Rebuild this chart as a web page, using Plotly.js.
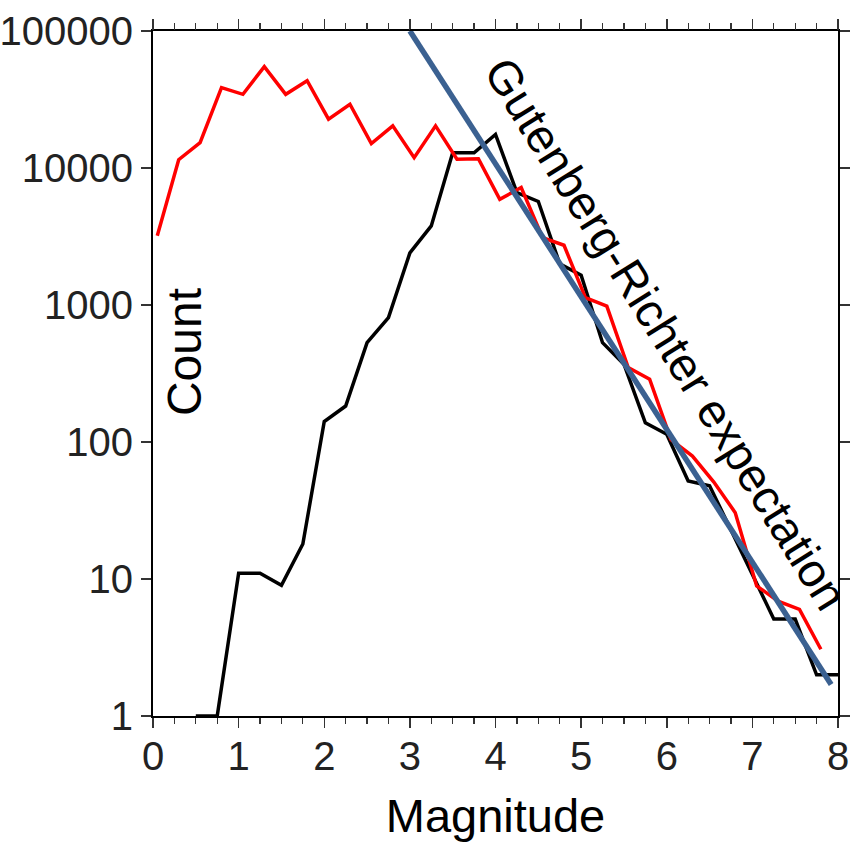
<!DOCTYPE html>
<html>
<head>
<meta charset="utf-8">
<script src="https://cdn.plot.ly/plotly-3.0.1.min.js"></script>
<style>html,body{margin:0;padding:0;background:#fff;}#chart{width:852px;height:842px;}</style>
</head>
<body>
<div id="chart"></div>
<script>
// Black series (magnitude bins at quarter steps)
var blackMag = [0.5, 0.75, 1.0, 1.25, 1.5, 1.75, 2.0, 2.25, 2.5, 2.75, 3.0, 3.25, 3.5, 3.75, 4.0, 4.25, 4.5, 4.75, 5.0, 5.25, 5.5, 5.75, 6.0, 6.25, 6.5, 6.75, 7.0, 7.25, 7.5, 7.75, 8.0];
var blackCount = [1, 1, 11, 11, 9, 18, 141, 183, 531, 809, 2400, 3780, 12900, 12900, 17600, 6600, 5700, 2000, 1650, 531, 370, 138, 114, 52, 48, 23, 10.8, 5.1, 5.1, 2.0, 2.0];

// Red series
var redMag = [0.05, 0.30, 0.55, 0.80, 1.05, 1.30, 1.55, 1.80, 2.05, 2.30, 2.55, 2.80, 3.05, 3.30, 3.55, 3.80, 4.05, 4.30, 4.55, 4.80, 5.05, 5.30, 5.55, 5.80, 6.05, 6.30, 6.55, 6.80, 7.05, 7.30, 7.55, 7.80];
var redCount = [3200, 11500, 15300, 38600, 34500, 55000, 34500, 43400, 22700, 29200, 15100, 20300, 11900, 20300, 11600, 11700, 5900, 7200, 3100, 2730, 1130, 980, 349, 287, 104, 79, 51, 30.5, 8.9, 6.9, 6.0, 3.07];

// Gutenberg-Richter expectation line (end points)
var grMag = [3.0, 7.92];
var grCount = [100000, 1.7];

var yTickVals = [1, 10, 100, 1000, 10000, 100000];
var yTickText = ['1', '10', '100', '1000', '10000', '100000'];
var xTickVals = [0, 1, 2, 3, 4, 5, 6, 7, 8];
var xMinorVals = [0, 0.25, 0.5, 0.75, 1, 1.25, 1.5, 1.75, 2, 2.25, 2.5, 2.75, 3, 3.25, 3.5, 3.75, 4, 4.25, 4.5, 4.75, 5, 5.25, 5.5, 5.75, 6, 6.25, 6.5, 6.75, 7, 7.25, 7.5, 7.75, 8];

var FONT = 'Liberation Sans, Arial, Helvetica, sans-serif';

var traces = [
  {x: blackMag, y: blackCount, type: 'scatter', mode: 'lines', line: {color: '#000000', width: 3.5}, hoverinfo: 'skip'},
  {x: redMag, y: redCount, type: 'scatter', mode: 'lines', line: {color: '#ff0000', width: 3.5}, hoverinfo: 'skip'},
  {x: grMag, y: grCount, xaxis: 'x2', type: 'scatter', mode: 'lines', line: {color: '#3b6191', width: 5.5}, hoverinfo: 'skip'}
];

var layout = {
  width: 852, height: 842,
  margin: {l: 153, r: 14, t: 31, b: 126, pad: 0},
  paper_bgcolor: '#ffffff', plot_bgcolor: '#ffffff',
  showlegend: false,
  font: {family: FONT, color: '#222222'},
  xaxis: {
    range: [0, 8], tickvals: xTickVals, ticks: 'outside', ticklen: 10, tickwidth: 1.5, tickcolor: '#333',
    showline: true, linecolor: '#000', linewidth: 2, mirror: 'ticks', showgrid: false, zeroline: false,
    tickfont: {size: 40, family: FONT, color: '#222'}, ticklabelstandoff: -6,
    minor: {dtick: 0.25, ticks: 'outside', ticklen: 6, tickwidth: 1.2, tickcolor: '#333', showgrid: false},
    title: {text: 'Magnitude', font: {size: 47, family: FONT, color: '#000'}, standoff: 26}
  },
  xaxis2: {
    range: [0, 8], overlaying: 'x', side: 'top', tickvals: xMinorVals, ticks: 'outside', ticklen: 6, tickwidth: 1.2, tickcolor: '#333',
    showline: false, showticklabels: false, showgrid: false, zeroline: false
  },
  yaxis: {
    type: 'log', range: [0, 5], tickvals: yTickVals, ticktext: yTickText, ticks: 'outside', ticklen: 10, tickwidth: 1.5, tickcolor: '#333',
    showline: true, linecolor: '#000', linewidth: 2, mirror: 'ticks', showgrid: false, zeroline: false,
    tickfont: {size: 40, family: FONT, color: '#222'}
  },
  annotations: [
    {x: 0.36, y: 2.655, xref: 'x', yref: 'y', text: 'Count', showarrow: false, textangle: -90,
     font: {size: 48, family: FONT, color: '#000'}, xanchor: 'center', yanchor: 'middle'},
    {x: 5.99, y: 2.79, xref: 'x', yref: 'y', text: 'Gutenberg-Richter expectation', showarrow: false, textangle: 58,
     font: {size: 47, family: FONT, color: '#000'}, xanchor: 'center', yanchor: 'middle'}
  ]
};

Plotly.newPlot('chart', traces, layout, {displayModeBar: false, staticPlot: true});
</script>
</body>
</html>
